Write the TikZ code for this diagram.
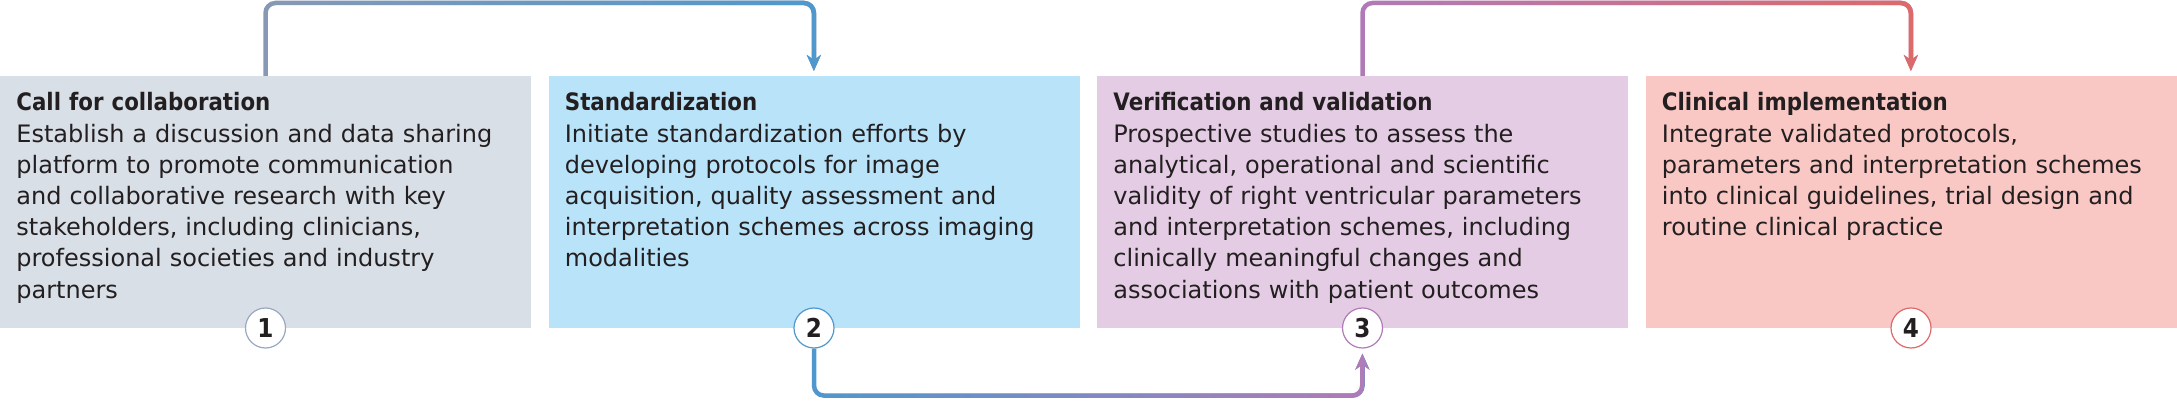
\documentclass[tikz,border=0pt]{standalone}
\usepackage{fontspec}
\setmainfont{DejaVu Sans}
\newfontfamily\headfont{DejaVu Sans}[FakeStretch=0.89]
\usetikzlibrary{arrows.meta, positioning, fadings}
\definecolor{ink}{HTML}{231F20}
\definecolor{fillgrey}{HTML}{D8DFE7}
\definecolor{fillblue}{HTML}{B9E3F8}
\definecolor{fillpurple}{HTML}{E4CDE4}
\definecolor{fillred}{HTML}{F9C8C4}
\definecolor{linegrey}{HTML}{8899B4}
\definecolor{lineblue}{HTML}{4F98CE}
\definecolor{linepurple}{HTML}{B07BB8}
\definecolor{linered}{HTML}{DD6A6A}
\tikzfading[name=tored, left color=transparent!100, right color=transparent!0]
\tikzstyle{stage} = [rectangle, minimum width=265.5pt, minimum height=126pt, inner sep=0pt, outer sep=0pt, anchor=north west]
\tikzstyle{blurb} = [anchor=base west, text width=255pt, align=left, inner sep=0pt, text=ink, font=\fontsize{12}{15.6}\selectfont]
\tikzstyle{badge} = [circle, fill=white, line width=0.6pt, minimum size=20pt, inner sep=0pt, text=ink, font=\headfont\bfseries\fontsize{13}{13}\selectfont]
\tikzstyle{link} = [line width=2.25pt, rounded corners=5pt, -{Stealth[length=8pt, width=7pt, inset=2.5pt]}]

\begin{document}
\begin{tikzpicture}
	\useasboundingbox (0,0) rectangle (1088.5pt,200.5pt);
	\node[stage, fill=fillgrey] (call) at (0pt,162.5pt) {};
	\node[stage, fill=fillblue, right=8.75pt of call] (standard) {};
	\node[stage, fill=fillpurple, right=8.75pt of standard] (verify) {};
	\node[stage, fill=fillred, right=8.75pt of verify] (clinic) {};
	\node[blurb] (calltext) at ([shift={(8pt,-17.5pt)}]call.north west) {{\headfont\bfseries Call for collaboration}\\
		Establish a discussion and data sharing\\
		platform to promote communication\\
		and collaborative research with key\\
		stakeholders, including clinicians,\\
		professional societies and industry\\
		partners};
	\node[blurb] (standardtext) at ([shift={(8pt,-17.5pt)}]standard.north west) {{\headfont\bfseries Standardization}\\
		Initiate standardization efforts by\\
		developing protocols for image\\
		acquisition, quality assessment and\\
		interpretation schemes across imaging\\
		modalities};
	\node[blurb] (verifytext) at ([shift={(8pt,-17.5pt)}]verify.north west) {{\headfont\bfseries Verification and validation}\\
		Prospective studies to assess the\\
		analytical, operational and scientific\\
		validity of right ventricular parameters\\
		and interpretation schemes, including\\
		clinically meaningful changes and\\
		associations with patient outcomes};
	\node[blurb] (clinictext) at ([shift={(8pt,-17.5pt)}]clinic.north west) {{\headfont\bfseries Clinical implementation}\\
		Integrate validated protocols,\\
		parameters and interpretation schemes\\
		into clinical guidelines, trial design and\\
		routine clinical practice};
	\node[badge, draw=linegrey!85] (one) at (call.south) {1};
	\node[badge, draw=lineblue] (two) at (standard.south) {2};
	\node[badge, draw=linepurple] (three) at (verify.south) {3};
	\node[badge, draw=linered] (four) at (clinic.south) {4};
	\draw[link, linegrey, shorten >=2.5pt] (call.north) -- ++(0,36.5pt) -| (standard.north);
	\draw[link, lineblue, shorten >=2.5pt, path fading=tored] (call.north) -- ++(0,36.5pt) -| (standard.north);
	\draw[link, lineblue, shorten >=2.5pt] (two.south) -- ++(0,-23.5pt) -| (three.south);
	\draw[link, linepurple, shorten >=2.5pt, path fading=tored] (two.south) -- ++(0,-23.5pt) -| (three.south);
	\draw[link, linepurple, shorten >=2.5pt] (verify.north) -- ++(0,36.5pt) -| (clinic.north);
	\draw[link, linered, shorten >=2.5pt, path fading=tored] (verify.north) -- ++(0,36.5pt) -| (clinic.north);
\end{tikzpicture}
\end{document}
